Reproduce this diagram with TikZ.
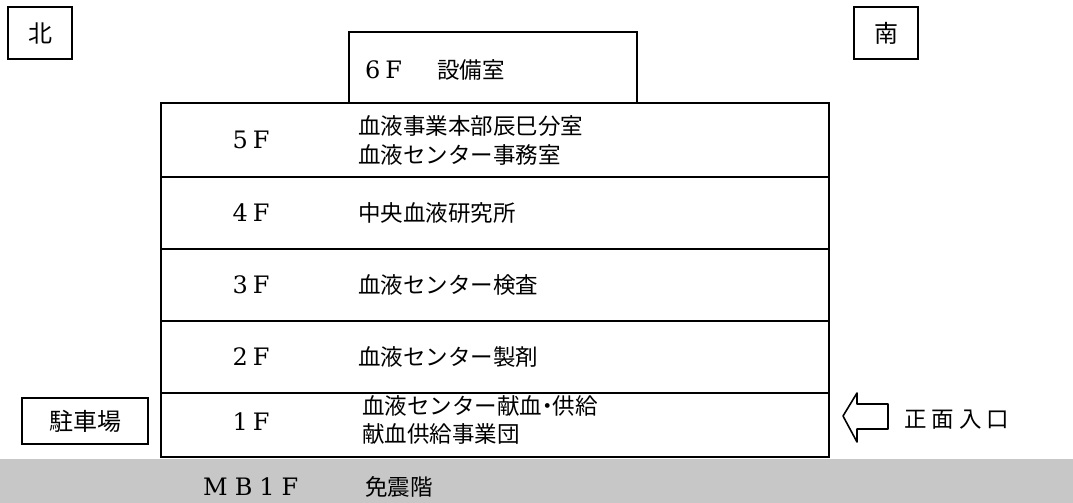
\documentclass[tikz,border=0pt]{standalone}
\usepackage{fontspec}
\newfontfamily\jp{Noto Sans CJK JP}
\newfontfamily\lat{DejaVu Serif}
\newcommand{\mdot}{\hspace{-6pt}・\hspace{-6pt}}
\begin{document}
\begin{tikzpicture}[x=1pt,y=-1pt,
  wall/.style={line width=1.6pt},
  jt/.style={font=\jp\fontsize{22.5}{29}\selectfont, anchor=west, inner sep=0pt, align=left},
  fl/.style={font=\lat\fontsize{24}{28}\selectfont, inner sep=0pt},
  dirbox/.style={draw, line width=2pt, minimum width=64pt, minimum height=52pt, inner sep=0pt, font=\jp\fontsize{24}{26}\selectfont}]
\useasboundingbox (0,0) rectangle (1073,503);
% ground band
\fill[black!22] (0,459) rectangle (1073,503);
% 6F penthouse
\draw[wall] (349,103) |- (637,32) -- (637,103);
% main building
\draw[wall] (161,103) rectangle (829,457);
\foreach \y in {177,249,321,393} \draw[wall] (161,\y) -- (829,\y);
% direction boxes
\node[dirbox] (north) at (40,33) {北};
\node[dirbox] (south) at (886,33) {南};
% 6F
\node[fl, anchor=west] (f6) at (365,70) {6\hspace{5pt}F};
\node[jt] (f6t) at (437,70) {設備室};
% floors
\node[fl] (f5) at (251,140) {5\hspace{5pt}F};
\node[jt] (f5t) at (358,140) {血液事業本部辰巳分室\\血液センター事務室};
\node[fl] (f4) at (251,213) {4\hspace{5pt}F};
\node[jt] (f4t) at (358,213) {中央血液研究所};
\node[fl] (f3) at (251,285) {3\hspace{5pt}F};
\node[jt] (f3t) at (358,285) {血液センター検査};
\node[fl] (f2) at (251,357) {2\hspace{5pt}F};
\node[jt] (f2t) at (358,357) {血液センター製剤};
\node[fl] (f1) at (251,422) {1\hspace{5pt}F};
\node[jt, font=\jp\fontsize{22.5}{28}\selectfont] (f1t) at (362,420) {血液センター献血\mdot 供給\\献血供給事業団};
% basement
\node[fl, anchor=west] (mb) at (203,487) {M\hspace{7pt}B\hspace{7pt}1\hspace{7pt}F};
\node[jt] (mbt) at (365,487) {免震階};
% parking
\node[draw, line width=1.6pt, minimum width=126pt, minimum height=46pt, inner sep=0pt, font=\jp\fontsize{24}{26}\selectfont] (park) at (85,421) {駐車場};
% entrance arrow
\draw[line width=1.6pt, line join=round] (843,416) -- (857,393) -- (857,404) -- (888,404) -- (888,429) -- (857,429) -- (857,442) -- cycle;
\node[jt] (entr) at (904,420) {正\hspace{5pt}面\hspace{5pt}入\hspace{5pt}口};
\end{tikzpicture}
\end{document}
